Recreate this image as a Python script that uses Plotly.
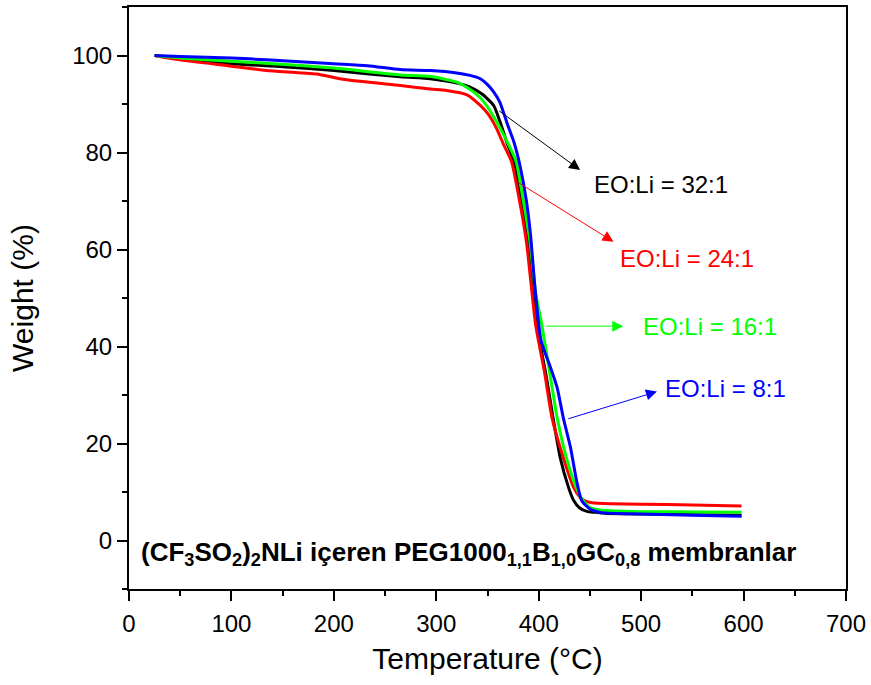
import plotly.graph_objects as go

# ---------------- data ----------------
t_32 = [25, 50, 100, 150, 200, 265, 294, 320, 333, 345, 356, 362, 369, 376, 383, 390, 398, 407, 414, 421, 429, 434, 440, 447, 455, 465, 480, 520, 560, 598]
w_32 = [100, 99.4, 98.3, 97.7, 96.9, 95.6, 95.2, 94.3, 93.5, 92.0, 89.7, 86.5, 82.0, 78.1, 70.5, 61.0, 44.5, 34.3, 25.3, 17.1, 11.0, 8.3, 6.7, 6.0, 5.8, 5.6, 5.5, 5.4, 5.3, 5.2]

t_24 = [25, 46, 100, 134, 183, 209, 265, 294, 310, 330, 343, 351, 359, 366, 373.5, 380, 388, 397, 406, 413, 424, 434, 440, 445, 452, 470, 500, 550, 598]
w_24 = [100, 99.2, 97.8, 96.9, 96.2, 95.1, 93.8, 93.1, 92.8, 91.9, 89.7, 87.8, 84.9, 81.5, 78.1, 71.5, 61.6, 44.5, 34.3, 25.3, 17.1, 11.0, 9.0, 8.2, 7.8, 7.6, 7.5, 7.3, 7.1]

t_16 = [25, 50, 100, 134, 200, 265, 294, 320, 333, 342, 349, 357, 365, 372, 378, 385, 391.5, 397, 403, 411, 418, 427, 436.5, 443, 450, 460, 490, 550, 598]
w_16 = [100, 99.5, 98.8, 98.4, 97.4, 96.0, 95.7, 94.5, 93.0, 91.5, 89.7, 87.0, 84.0, 81.0, 78.1, 70.0, 61.6, 51.0, 44.5, 34.3, 25.3, 17.1, 11.0, 8.3, 6.8, 6.3, 6.0, 5.9, 5.8]

t_8 = [25, 50, 100, 134, 200, 233, 265, 294, 320, 333, 343, 350, 356, 362, 370, 376, 382, 388, 392, 396, 399, 402, 406, 411, 418, 424, 431, 437, 442, 450, 460, 490, 550, 598]
w_8 = [100, 99.8, 99.5, 99.1, 98.3, 97.9, 97.1, 96.9, 96.4, 95.9, 95.2, 94.0, 92.5, 90.4, 85.5, 82.0, 77.0, 70.0, 63.0, 53.0, 46.5, 41.5, 38.8, 36.0, 31.5, 25.3, 19.2, 12.3, 8.2, 6.5, 5.8, 5.5, 5.2, 5.0]

series_names = ["EO:Li = 32:1", "EO:Li = 24:1", "EO:Li = 16:1", "EO:Li = 8:1"]
series_colors = ["#000000", "#FF0000", "#00FF00", "#0000FF"]
series_t = [t_32, t_24, t_16, t_8]
series_w = [w_32, w_24, w_16, w_8]

x_ticks = [0, 100, 200, 300, 400, 500, 600, 700]
y_ticks = [0, 20, 40, 60, 80, 100]

FONT = "Arial, 'Liberation Sans', sans-serif"

fig = go.Figure()
for t, w, n, c in zip(series_t, series_w, series_names, series_colors):
    fig.add_trace(go.Scatter(x=t, y=w, mode="lines", name=n,
                             line=dict(color=c, width=3, shape="spline", smoothing=0.6)))

# arrows (head near label, tail at curve)
arrows = [
    (440.4, 76.4, 360, 88.8, "#000000"),
    (473, 61.6, 378.6, 74.0, "#FF0000"),
    (482.5, 44.2, 406, 44.2, "#00FF00"),
    (515.4, 30.7, 427.4, 25.0, "#0000FF"),
]
for hx, hy, tx, ty, c in arrows:
    fig.add_annotation(x=hx, y=hy, ax=tx, ay=ty, xref="x", yref="y", axref="x", ayref="y",
                       text="", showarrow=True, arrowhead=2, arrowsize=2.2, arrowwidth=1,
                       arrowcolor=c, standoff=0, startstandoff=0)

labels = [
    (451.8, 73.4, "#000000"),
    (477.6, 58.1, "#FF0000"),
    (500.0, 44.2, "#00FF00"),
    (521.6, 31.4, "#0000FF"),
]
for (lx, ly, c), n in zip(labels, series_names):
    fig.add_annotation(x=lx, y=ly, xref="x", yref="y", text=n, showarrow=False,
                       xanchor="left", yanchor="middle",
                       font=dict(family=FONT, size=24, color=c))

fig.add_annotation(x=10.0, y=-2.6, xref="x", yref="y",
                   text="<b>(CF<sub>3</sub>SO<sub>2</sub>)<sub>2</sub>NLi içeren PEG1000<sub>1,1</sub>B<sub>1,0</sub>GC<sub>0,8</sub> membranlar</b>",
                   showarrow=False, xanchor="left", yanchor="middle",
                   font=dict(family=FONT, size=26, color="#000000"))

axis_common = dict(showline=True, linecolor="#000000", linewidth=2, mirror=True,
                   ticks="outside", ticklen=10, tickwidth=2, tickcolor="#000000",
                   showgrid=False, zeroline=False,
                   tickfont=dict(family=FONT, size=24, color="#000000"))

fig.update_xaxes(range=[0, 700], tickvals=x_ticks, ticktext=[str(v) for v in x_ticks],
                 minor=dict(ticks="outside", ticklen=5, tickwidth=2, tickcolor="#000000", dtick=50, tick0=0),
                 title=dict(text="Temperature (°C)", font=dict(family=FONT, size=30, color="#000000"), standoff=12),
                 ticklabelstandoff=2, **axis_common)
fig.update_yaxes(range=[-10, 110], tickvals=y_ticks, ticktext=[str(v) for v in y_ticks],
                 minor=dict(ticks="outside", ticklen=5, tickwidth=2, tickcolor="#000000", dtick=10, tick0=0),
                 title=dict(text="Weight (%)", font=dict(family=FONT, size=30, color="#000000"), standoff=30),
                 ticklabelstandoff=0, **axis_common)

fig.update_layout(width=871, height=685, autosize=False,
                  margin=dict(l=129, r=25, t=5, b=96, pad=0),
                  plot_bgcolor="#FFFFFF", paper_bgcolor="#FFFFFF",
                  showlegend=False)

fig.write_html("out.html")
